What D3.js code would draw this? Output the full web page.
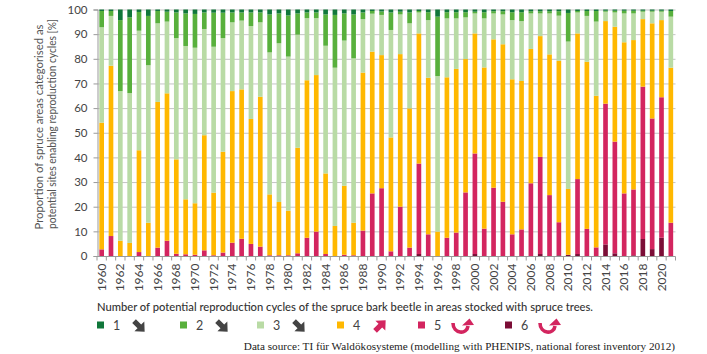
<!DOCTYPE html>
<html><head><meta charset="utf-8">
<script src="https://cdn.jsdelivr.net/npm/d3@7"></script>
<style>body{margin:0;background:#fff}svg{display:block}</style>
</head><body>
<svg id="chart" width="707" height="354"></svg>
<script>
// ---------- DATA ----------
const years = [1960,1961,1962,1963,1964,1965,1966,1967,1968,1969,1970,1971,1972,1973,1974,1975,1976,1977,1978,1979,
  1980,1981,1982,1983,1984,1985,1986,1987,1988,1989,1990,1991,1992,1993,1994,1995,1996,1997,1998,1999,
  2000,2001,2002,2003,2004,2005,2006,2007,2008,2009,2010,2011,2012,2013,2014,2015,2016,2017,2018,2019,2020,2021];
// share (%) of spruce area per number of potential reproduction cycles
const cycles6 = [0,0,0,0,0,0,0,0,0,0,0,0,0,0,0,0,0,0,0,0,
  0,0,0,0,0,0,0,0,0,0,0,0,0,0,0.8,0,0,0,0,0,
  0.8,0,0,0,0,0,0,0.8,0,0.3,0.5,0.8,0,0,4.7,1.1,0,0.3,6.9,2.8,7.4,0];
const cycles5 = [2.7,8.1,0,0,1.6,0,3.4,6.2,0.9,0.7,0.5,2.3,0.3,1.4,5.4,7.0,4.9,3.8,0.3,0.3,
  0.3,1.1,7.4,9.9,0.8,0,0.5,0.3,10.3,25.4,27.5,1.9,20.0,3.4,36.7,8.8,0,7.4,9.5,25.8,
  40.8,11.1,27.7,22.0,8.8,10.8,29.5,39.4,24.7,13.4,0,30.4,11.0,3.5,57.1,45.3,25.4,26.7,61.8,53.0,57.0,13.5];
const cycles4 = [51.4,69.1,6.2,5.3,41.3,13.5,59.1,59.8,38.3,22.3,20.9,46.7,25.4,40.9,61.5,60.6,50.7,60.8,24.7,21.6,
  18.1,42.8,63.9,63.5,32.7,12.2,28.0,13.2,64.1,57.5,54.0,46.2,61.9,56.5,52.8,63.5,9.9,65.1,66.4,54.1,
  48.7,65.4,60.2,63.9,62.9,60.2,54.5,49.0,57.1,65.5,26.7,59.1,67.8,61.5,33.5,46.6,61.3,60.6,27.4,38.6,31.3,62.9];
const cycles3 = [38.7,20.2,60.7,60.8,48.5,63.9,31.9,29.1,49.2,62.2,63.1,43.1,59.2,46.1,27.9,27.9,37.7,30.2,57.6,64.4,
  62.5,45.9,25.2,23.1,51.8,64.2,58.9,66.7,21.7,15.4,16.3,43.6,16.1,34.5,8.5,23.4,63.1,23.9,20.5,16.9,
  8.1,19.9,10.5,12.1,24.0,24.3,14.4,9.2,16.6,18.3,59.8,8.5,18.6,30.1,3.8,5.8,11.7,10.8,3.0,4.7,3.4,20.7];
const cycles2 = [6.6,2.0,28.8,30.7,7.6,20.0,5.0,4.0,10.4,13.2,13.7,6.7,13.8,10.3,4.0,3.3,5.5,4.0,15.4,12.1,
  16.7,8.6,2.3,2.3,12.7,21.4,11.0,17.8,2.7,1.1,1.4,7.1,1.1,4.4,0.6,3.2,24.1,2.5,2.5,2.1,
  0.7,2.5,0.9,1.3,3.2,3.6,0.9,0.9,0.9,1.8,11.6,0.6,2.0,4.3,0.4,0.7,1.1,1.1,0.4,0.4,0.4,2.3];
const cycles1 = [0.6,0.6,4.3,3.2,1.0,2.6,0.6,0.9,1.2,1.6,1.8,1.2,1.3,1.3,1.2,1.2,1.2,1.2,2.0,1.6,
  2.4,1.6,1.2,1.2,2.0,2.2,1.6,2.0,1.2,0.6,0.8,1.2,0.9,1.2,0.6,1.1,2.9,1.1,1.1,1.1,
  0.9,1.1,0.7,0.7,1.1,1.1,0.7,0.7,0.7,0.7,1.4,0.6,0.6,0.6,0.5,0.5,0.5,0.5,0.5,0.5,0.5,0.6];
const yTickValues = [0,10,20,30,40,50,60,70,80,90,100];
const xLabelYears = [1960,1962,1964,1966,1968,1970,1972,1974,1976,1978,1980,1982,1984,1986,1988,1990,
  1992,1994,1996,1998,2000,2002,2004,2006,2008,2010,2012,2014,2016,2018,2020];
const legendLabels = ["1","2","3","4","5","6"];
const yTitle = ["Proportion of spruce areas categorised as","potential sites enabling reproduction cycles [%]"];
const legendTitle = "Number of potential reproduction cycles of the spruce bark beetle in areas stocked with spruce trees.";
const sourceText = "Data source: TI für Waldökosysteme (modelling with PHENIPS, national forest inventory 2012)";

// ---------- SETUP ----------
const colors = {c1:"#10773a", c2:"#58b03c", c3:"#b9dba5", c4:"#ffb800", c5:"#d3255f", c6:"#7b0d36"};
const keys = ["c6","c5","c4","c3","c2","c1"];
const table = years.map((y,i)=>({year:y,c1:cycles1[i],c2:cycles2[i],c3:cycles3[i],c4:cycles4[i],c5:cycles5[i],c6:cycles6[i]}));

const svg = d3.select("#chart");
const L=97, R=675.5, T=9.5, B=256;
const x = d3.scaleBand().domain(years).range([L,R]).paddingInner(0.5).paddingOuter(0.25);
const y = d3.scaleLinear().domain([0,100]).range([B,T]);
const sans = "Lato, 'Open Sans', sans-serif";

// gridlines
svg.append("g").selectAll("line").data(yTickValues.filter(v=>v>0)).join("line")
  .attr("x1",L).attr("x2",R).attr("y1",d=>y(d)+0.5).attr("y2",d=>y(d)+0.5)
  .attr("stroke","#c4c4c4").attr("stroke-width",1);

// bars
const series = d3.stack().keys(keys)(table);
svg.append("g").selectAll("g").data(series).join("g").attr("fill",d=>colors[d.key])
  .selectAll("rect").data(d=>d).join("rect")
  .attr("x",d=>x(d.data.year)).attr("width",x.bandwidth())
  .attr("y",d=>y(d[1])).attr("height",d=>Math.max(0,y(d[0])-y(d[1])));

// y axis
const yAxis = d3.axisLeft(y).tickValues(yTickValues).tickSize(4).tickPadding(6);
const gy = svg.append("g").attr("transform",`translate(${L+0.5},0)`).call(yAxis);
gy.select(".domain").attr("stroke","#9a9a9a");
gy.selectAll(".tick line").attr("stroke","#9a9a9a");
gy.selectAll(".tick text").attr("font-family",sans).attr("font-size",11.5).attr("fill","#444");

// x axis
const gx = svg.append("g").attr("transform",`translate(0,${B+0.5})`);
gx.append("line").attr("x1",L).attr("x2",R).attr("stroke","#9a9a9a");
const bounds = years.map(yr=>x(yr)-x.step()*x.paddingInner()/2).concat([R]);
gx.selectAll("line.t").data(bounds).join("line").attr("class","t")
  .attr("x1",d=>d).attr("x2",d=>d).attr("y1",0).attr("y2",4).attr("stroke","#9a9a9a");
gx.selectAll("text").data(xLabelYears).join("text")
  .attr("transform",d=>`translate(${x(d)+x.bandwidth()/2+4},7) rotate(-90)`)
  .attr("text-anchor","end").attr("font-family",sans).attr("font-size",12).attr("fill","#444")
  .text(d=>d);

// y title
const yTitleLen = [205,210];
svg.append("g").selectAll("text").data(yTitle).join("text")
  .attr("transform",(d,i)=>`translate(${43+i*13},${127-i*3}) rotate(-90)`)
  .attr("text-anchor","middle").attr("font-family",sans).attr("font-size",11).attr("fill","#555")
  .attr("textLength",(d,i)=>yTitleLen[i]).attr("lengthAdjust","spacingAndGlyphs")
  .text(d=>d);

// legend title
svg.append("text").attr("x",97).attr("y",311).attr("font-family",sans).attr("font-size",12)
  .attr("fill","#333").attr("font-weight",500)
  .attr("textLength",496).attr("lengthAdjust","spacingAndGlyphs").text(legendTitle);

// legend items
const legX = [97,180,257,337,418,505];
const lg = svg.append("g").selectAll("g").data(legendLabels).join("g")
  .attr("transform",(d,i)=>`translate(${legX[i]},0)`);
lg.append("rect").attr("x",0).attr("y",321.5).attr("width",7).attr("height",7)
  .attr("fill",(d,i)=>colors["c"+(i+1)]);
lg.append("text").attr("x",16).attr("y",329.5).attr("font-family",sans).attr("font-size",12.5).attr("fill","#444").text(d=>d);
const straight = "M-7,-2.6 L0.5,-2.6 L0.5,-7 L8,0 L0.5,7 L0.5,2.6 L-7,2.6 Z";
lg.each(function(d,i){
  const g = d3.select(this);
  if(i<3){
    g.append("path").attr("d",straight).attr("fill","#444").attr("transform","translate(42,326) rotate(45)");
  } else if(i===3){
    g.append("path").attr("d",straight).attr("fill","#d3255f").attr("transform","translate(43,326) rotate(-45)");
  } else {
    const a = g.append("g").attr("transform","translate(44,327)");
    a.append("path").attr("d","M-9,-4 C-9,7 5,8 6,-1").attr("fill","none").attr("stroke","#d3255f").attr("stroke-width",3.6);
    a.append("path").attr("d","M0,-1.5 L12,-2 L7.5,-8.5 Z").attr("fill","#d3255f");
  }
});

// source
svg.append("text").attr("x",675).attr("y",350).attr("text-anchor","end")
  .attr("font-family","'Liberation Serif','DejaVu Serif',serif").attr("font-size",11.2).attr("fill","#222")
  .text(sourceText);
</script>
</body></html>
